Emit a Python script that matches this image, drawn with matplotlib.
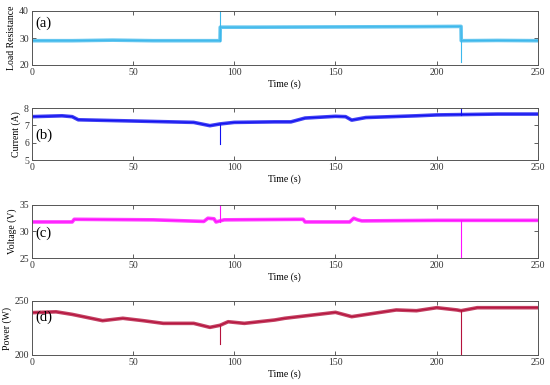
import matplotlib.pyplot as plt

plt.rcParams['font.family'] = ['Liberation Serif', 'DejaVu Serif']
plt.rcParams['font.size'] = 7

# values: trend points, then the short spikes separately
t_res = [0, 20, 40, 60, 80, 93.0, 93.1, 110, 150, 190, 212.0, 212.1, 230, 250]
res = [29.0, 29.0, 29.2, 29.0, 29.0, 29.0, 34.0, 34.0, 34.1, 34.2, 34.3, 29.0, 29.1, 29.0]
spk_res_t = [93.05, 212.05]
spk_res = [40.0, 21.0]

t_cur = [0, 15, 20, 23, 50, 80, 88, 93, 100, 120, 128, 135, 150, 155, 158,
         165, 190, 200, 212, 230, 250]
cur = [7.5, 7.55, 7.5, 7.32, 7.25, 7.17, 6.98, 7.08, 7.17, 7.2, 7.2, 7.42, 7.52, 7.5, 7.3,
       7.45, 7.55, 7.6, 7.62, 7.65, 7.65]
spk_cur_t = [93, 212]
spk_cur = [5.95, 7.98]

t_volt = [0, 20, 21, 60, 85, 87, 90, 91, 95, 134, 135, 157, 159, 161, 163, 200, 250]
volt = [31.8, 31.8, 32.3, 32.2, 31.9, 32.5, 32.4, 31.8, 32.2, 32.3, 31.8, 31.8, 32.5,
        32.2, 32.0, 32.1, 32.1]
spk_volt_t = [93, 212]
spk_volt = [35.0, 25.0]

t_pow = [0, 12, 20, 35, 45, 55, 65, 80, 88, 93, 97, 105, 120, 125, 150, 158, 180,
         190, 200, 210, 212, 220, 250]
power = [239.2, 240.0, 237.6, 231.8, 234.0, 231.8, 229.3, 229.3, 225.6, 227.5, 230.8,
         229.3, 232.4, 234.0, 239.5, 235.5, 241.7, 241.0, 243.8, 241.7, 241.0, 243.8, 243.8]
spk_pow_t = [93, 212]
spk_pow = [210.0, 200.0]

panels = [
    (t_res, res, spk_res_t, spk_res, '#3db8ec', 'Load Resistance', (20, 40), [20, 30, 40], '(a)', 0.78),
    (t_cur, cur, spk_cur_t, spk_cur, '#1010f0', 'Current (A)', (5, 8), [5, 6, 7, 8], '(b)', 0.48),
    (t_volt, volt, spk_volt_t, spk_volt, '#ff10ff', 'Voltage (V)', (25, 35), [25, 30, 35], '(c)', 0.47),
    (t_pow, power, spk_pow_t, spk_pow, '#b5123c', 'Power (W)', (200, 250), [200, 250], '(d)', 0.70),
]

fig = plt.figure(figsize=(5.5, 3.85), dpi=100)
tops = [11, 108, 205, 301]
bots = [65, 160, 258, 355]
for (t, y, st, sv, col, lab, ylim, yt, tag, ty), top, bot in zip(panels, tops, bots):
    ax = fig.add_axes([31.7 / 550, 1 - bot / 385, (538 - 31.7) / 550, (bot - top) / 385])
    # noisy band look: a wide translucent stroke plus a thin core
    ax.plot(t, y, color=col, lw=2.6, alpha=0.8)
    ax.plot(t, y, color=col, lw=0.8)
    # thin spikes from the trend
    for ts, vs in zip(st, sv):
        base = y[min(range(len(t)), key=lambda i: abs(t[i] - ts))]
        ax.plot([ts, ts], [base, vs], color=col, lw=0.8)
    ax.set_xlim(0, 250)
    ax.set_ylim(*ylim)
    ax.set_yticks(yt)
    ax.set_xticks([0, 50, 100, 150, 200, 250])
    ax.set_ylabel(lab, labelpad=2)
    ax.set_xlabel('Time (s)', labelpad=2)
    ax.tick_params(direction='in', top=True, right=True, length=3, width=0.6,
                   colors='#444444', labelcolor='#333333', pad=2)
    for s in ax.spines.values():
        s.set_linewidth(0.7)
        s.set_color('#555555')
    ax.text(0.008, ty, tag, transform=ax.transAxes, fontsize=10.5, va='center', ha='left')

fig.savefig('out.png', dpi=100)
